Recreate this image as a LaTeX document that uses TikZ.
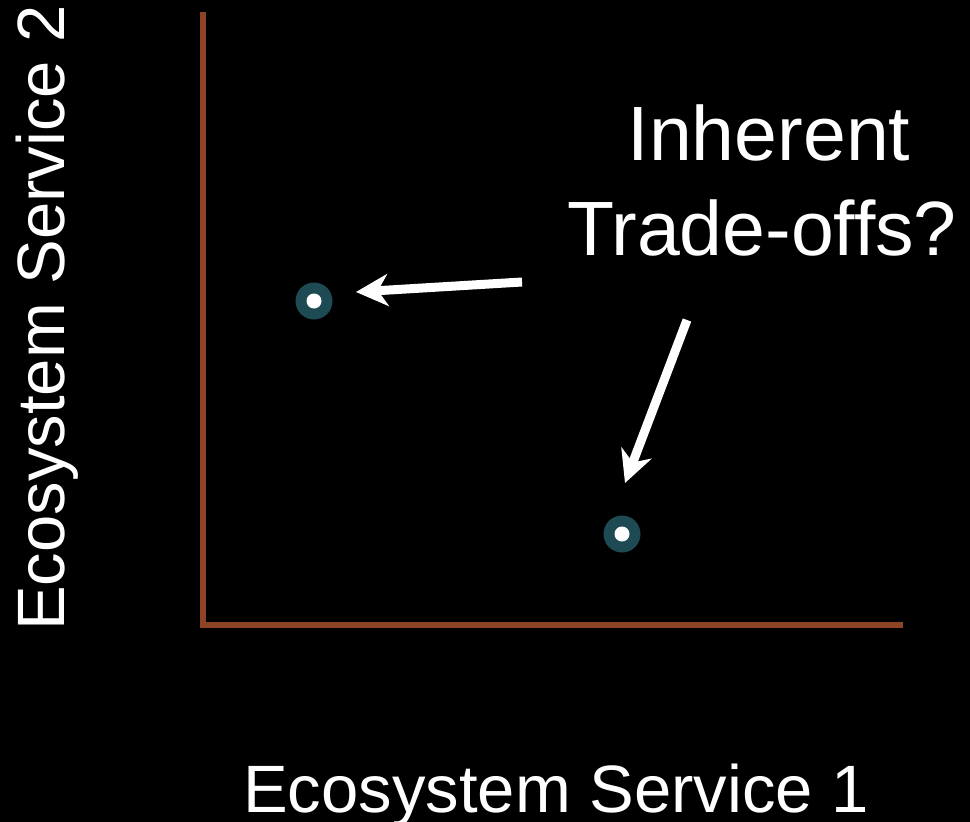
\documentclass[tikz,border=0pt]{standalone}
\usepackage{fontspec}
\setmainfont{Liberation Sans}
\usetikzlibrary{arrows.meta}
\definecolor{axisbrown}{RGB}{140,68,36}
\definecolor{dotteal}{RGB}{30,74,84}
\tikzset{
  axisline/.style={draw=axisbrown, line width=6pt, line join=miter},
  pointer/.style={draw=white, line width=9pt,
    -{Stealth[length=32pt, width=32pt, inset=10pt]}},
  dotouter/.style={circle, fill=dotteal, minimum size=37pt, inner sep=0pt},
  dotinner/.style={circle, fill=white, minimum size=15pt, inner sep=0pt},
  bigtext/.style={text=white, font=\fontsize{77pt}{93pt}\selectfont, align=center, inner sep=0pt},
  axlabel/.style={text=white, font=\fontsize{67pt}{70pt}\selectfont, inner sep=0pt, anchor=base},
}
\begin{document}
\begin{tikzpicture}[x=1pt, y=-1pt]
  \fill[black] (0,0) rectangle (970,822);
  \useasboundingbox (0,0) rectangle (970,822);
  % axes
  \coordinate (top) at (202.5,12);
  \coordinate (origin) at (202.5,625);
  \coordinate (right) at (903,625);
  \draw[axisline] (top) -- (origin) -- (right);
  % dots
  \node[dotouter] (p1) at (314,301) {};
  \node[dotinner] (p1c) at (314,301) {};
  \node[dotouter] (p2) at (622,534) {};
  \node[dotinner] (p2c) at (622,534) {};
  % label
  \node[bigtext, anchor=base] (l1) at (769,160) {Inherent};
  \node[bigtext, anchor=base] (l2) at (762,255) {Trade-offs?};
  % arrows
  \coordinate (a1s) at (522,282);
  \coordinate (a1e) at (356,292);
  \coordinate (a2s) at (687,320);
  \coordinate (a2e) at (625,483);
  \draw[pointer] (a1s) -- (a1e);
  \draw[pointer] (a2s) -- (a2e);
  % axis labels
  \node[axlabel] (xl) at (556,812) {Ecosystem Service 1};
  \node[axlabel, rotate=90] (yl) at (64,318) {Ecosystem Service 2};
\end{tikzpicture}
\end{document}
